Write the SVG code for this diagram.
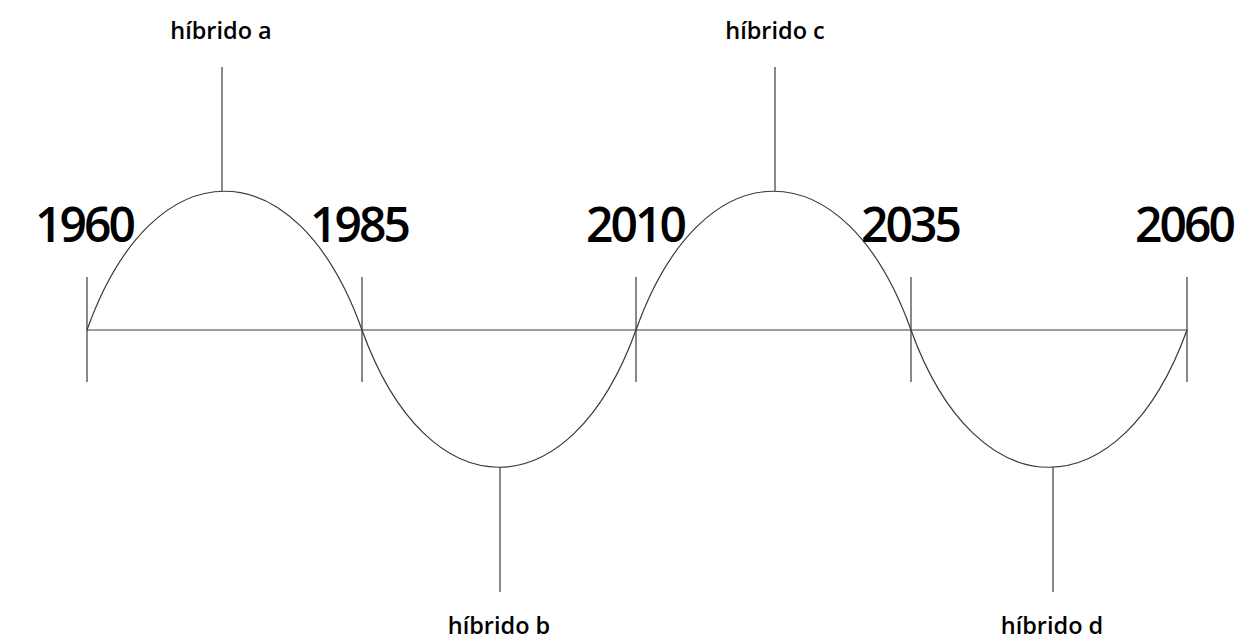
<svg xmlns="http://www.w3.org/2000/svg" width="1245" height="640" viewBox="0 0 1245 640">
<style>
.ln{stroke:#3a3a3a;stroke-width:1.2;fill:none}
.yr{font-family:"Open Sans","Noto Sans",sans-serif;font-weight:600;font-size:48px;letter-spacing:-3px;fill:#000;text-anchor:middle}
.lb{font-family:"Open Sans","Noto Sans",sans-serif;font-weight:600;font-size:23.5px;fill:#000;text-anchor:middle}
</style>
<rect width="1245" height="640" fill="#fff"/>
<g id="connectors">
<line class="ln" x1="87" y1="330" x2="1187" y2="330"/>
<path class="ln" d="M87,330 C153,145 296,145 362,330 C428,513 570,513 636,330 C702,145 845,145 911,330 C977,513 1121,513 1187,330"/>
<line class="ln" x1="222" y1="67" x2="222" y2="191"/>
<line class="ln" x1="500" y1="467" x2="500" y2="592"/>
<line class="ln" x1="775" y1="67" x2="775" y2="191"/>
<line class="ln" x1="1053" y1="467" x2="1053" y2="592"/>
</g>
<g id="t1960"><line class="ln" x1="87" y1="277" x2="87" y2="382"/><text class="yr" x="84" y="242">1960</text></g>
<g id="t1985"><line class="ln" x1="362" y1="277" x2="362" y2="382"/><text class="yr" x="359" y="242">1985</text></g>
<g id="t2010"><line class="ln" x1="636" y1="277" x2="636" y2="382"/><text class="yr" x="635" y="242">2010</text></g>
<g id="t2035"><line class="ln" x1="911" y1="277" x2="911" y2="382"/><text class="yr" x="910" y="242">2035</text></g>
<g id="t2060"><line class="ln" x1="1187" y1="277" x2="1187" y2="382"/><text class="yr" x="1184" y="242">2060</text></g>
<g id="ha"><text class="lb" x="221" y="39">híbrido a</text></g>
<g id="hb"><text class="lb" x="499" y="634">híbrido b</text></g>
<g id="hc"><text class="lb" x="775" y="39">híbrido c</text></g>
<g id="hd"><text class="lb" x="1052" y="634">híbrido d</text></g>
</svg>
